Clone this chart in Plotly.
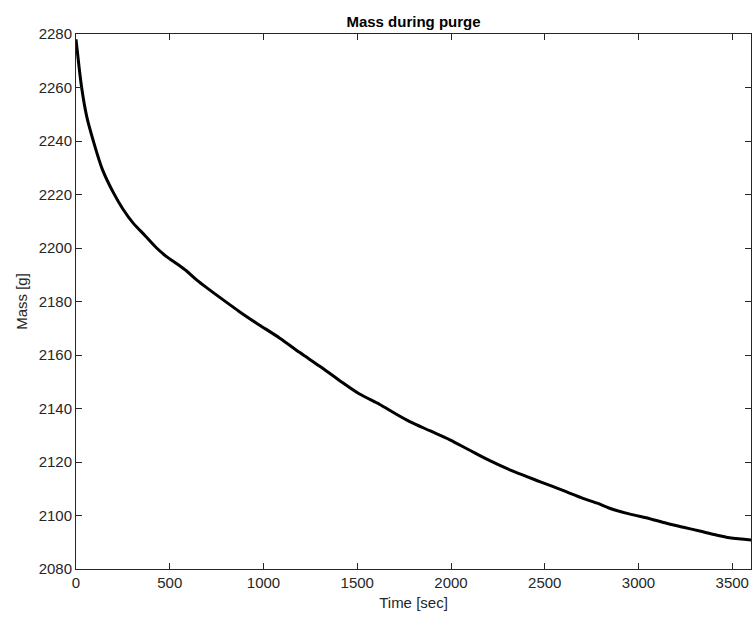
import plotly.graph_objects as go

time_sec = [0, 15, 30, 57, 92, 140, 200, 250, 305, 370, 430, 483, 540, 590, 643, 700,
            785, 870, 963, 1087, 1194, 1300, 1407, 1510, 1620, 1700, 1780, 1890, 1994,
            2100, 2207, 2340, 2473, 2600, 2704, 2780, 2846, 2950, 3060, 3149, 3240,
            3326, 3410, 3486, 3550, 3603]
mass_g = [2278.0, 2268.5, 2260.0, 2249.2, 2240.1, 2229.5, 2220.6, 2214.6, 2209.3, 2204.5,
          2200.0, 2196.8, 2194.0, 2191.4, 2188.1, 2185.0, 2180.6, 2176.3, 2171.9, 2166.3,
          2160.9, 2155.8, 2150.4, 2145.5, 2141.5, 2138.2, 2135.1, 2131.6, 2128.3, 2124.4,
          2120.5, 2116.3, 2112.7, 2109.3, 2106.4, 2104.6, 2102.7, 2100.6, 2098.8, 2097.1,
          2095.6, 2094.2, 2092.8, 2091.7, 2091.2, 2090.8]

x_ticks = [0, 500, 1000, 1500, 2000, 2500, 3000, 3500]
y_ticks = list(range(2080, 2281, 20))

FONT = "Liberation Sans, Arial, Helvetica, sans-serif"
AX = "#262626"

fig = go.Figure()
fig.add_trace(go.Scatter(x=time_sec, y=mass_g, mode="lines",
                         line=dict(color="black", width=3, shape="spline", smoothing=0.8),
                         showlegend=False))

axis_common = dict(showline=True, linecolor=AX, linewidth=1, mirror="ticks",
                   ticks="inside", ticklen=6, tickcolor=AX, tickwidth=1,
                   showgrid=False, zeroline=False,
                   tickfont=dict(family=FONT, size=15, color=AX))

fig.update_layout(
    width=752, height=617,
    margin=dict(l=76, r=1, t=34, b=48),
    paper_bgcolor="white", plot_bgcolor="white",
    font=dict(family=FONT, color=AX),
    title=dict(text="<b>Mass during purge</b>", x=0.5, xref="paper", xanchor="center",
               y=1 - 22 / 617, yref="container", yanchor="middle",
               font=dict(family=FONT, size=15, color="black")),
    xaxis=dict(range=[0, 3600], tickvals=x_ticks,
               title=dict(text="Time [sec]", standoff=7,
                          font=dict(family=FONT, size=15, color=AX)),
               **axis_common),
    yaxis=dict(range=[2080, 2280], tickvals=y_ticks,
               title=dict(text="Mass [g]", standoff=7,
                          font=dict(family=FONT, size=15, color=AX)),
               **axis_common),
)

fig.write_html("out.html")
